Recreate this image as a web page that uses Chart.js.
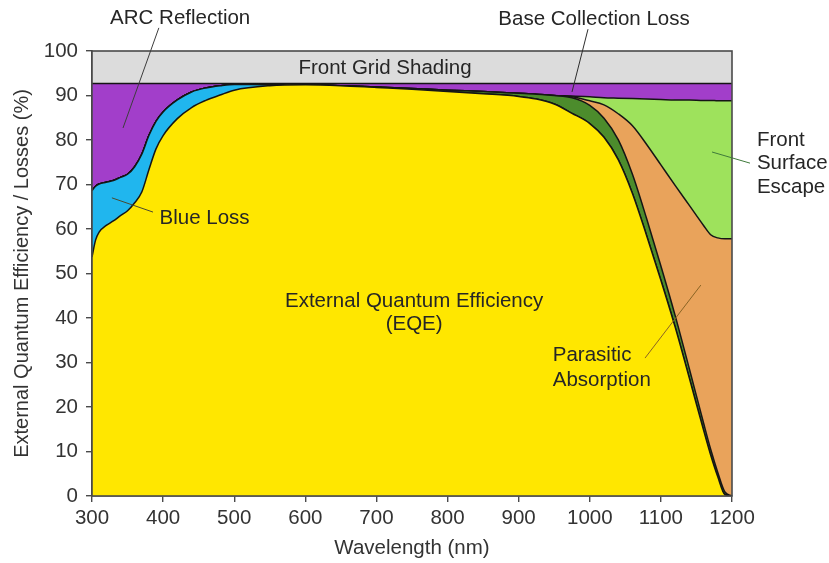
<!DOCTYPE html>
<html>
<head>
<meta charset="utf-8">
<script src="https://cdn.jsdelivr.net/npm/chart.js@4/dist/chart.umd.min.js"></script>
<style>
  html, body { margin: 0; padding: 0; background: #ffffff; }
  #wrap { position: relative; width: 829px; height: 563px; }
</style>
</head>
<body>
<div id="wrap"><canvas id="chart"></canvas></div>
<script>
// Wavelength grid (nm)
const wavelengths = [300, 305, 310, 320, 330, 340, 350, 360, 370, 380, 390, 400, 420, 440, 460, 480, 500, 550, 600, 650,
  700, 750, 800, 850, 900, 925, 950, 975, 1000, 1020, 1040, 1060, 1080, 1100, 1120, 1140, 1160, 1170, 1180, 1190, 1200];

// External quantum efficiency (%)
const eqe = [53.7, 57.5, 59.3, 60.8, 61.8, 63.0, 64.1, 65.9, 68.3, 73.3, 78.0, 81.0, 84.8, 87.3, 88.9, 90.1, 91.2, 92.2, 92.4, 92.2,
  91.8, 91.4, 90.9, 90.4, 89.8, 89.2, 88.1, 86.0, 83.7, 80.6, 75.6, 68.0, 58.5, 48.5, 38.0, 26.5, 14.8, 9.2, 4.3, 0.3, 0];

// Loss contributions (%), stacked on top of the EQE in this order
const blueLoss = [14.9, 12.1, 10.8, 9.7, 9.1, 8.6, 8.2, 8.1, 8.5, 7.7, 6.2, 5.3, 4.2, 3.5, 2.8, 2.1, 1.3, 0.2, 0, 0,
  0, 0, 0, 0, 0, 0, 0, 0, 0, 0, 0, 0, 0, 0, 0, 0, 0, 0, 0, 0, 0];
const baseCollectionLoss = [0, 0, 0, 0, 0, 0, 0, 0, 0, 0, 0, 0, 0, 0, 0, 0, 0, 0, 0, 0,
  0.1, 0.2, 0.3, 0.5, 0.7, 1.1, 1.9, 3.5, 4.1, 4.3, 4.5, 4.3, 3.8, 3.2, 2.6, 2.1, 1.6, 1.3, 1.0, 0.6, 0];
const parasiticAbsorption = [0, 0, 0, 0, 0, 0, 0, 0, 0, 0, 0, 0, 0, 0, 0, 0, 0, 0, 0, 0,
  0, 0, 0, 0, 0, 0, 0, 0.2, 1.0, 3.0, 5.8, 10.9, 16.7, 22.7, 29.2, 36.7, 44.4, 48.2, 52.7, 56.9, 57.8];
const frontSurfaceEscape = [0, 0, 0, 0, 0, 0, 0, 0, 0, 0, 0, 0, 0, 0, 0, 0, 0, 0, 0, 0,
  0, 0, 0, 0, 0, 0, 0, 0.2, 0.9, 1.6, 3.5, 6.1, 10.2, 14.7, 19.2, 23.7, 28.1, 30.2, 30.8, 31.0, 31.0];
const arcReflection = [24.1, 23.1, 22.6, 22.2, 21.8, 21.1, 20.4, 18.7, 15.9, 11.7, 8.5, 6.4, 3.7, 1.9, 1.0, 0.5, 0.2, 0.3, 0.3, 0.5,
  0.8, 1.1, 1.5, 1.8, 2.2, 2.4, 2.7, 2.8, 3.0, 3.2, 3.3, 3.4, 3.5, 3.6, 3.7, 3.7, 3.8, 3.8, 3.9, 3.9, 3.9];
const frontGridShading = [7.3, 7.3, 7.3, 7.3, 7.3, 7.3, 7.3, 7.3, 7.3, 7.3, 7.3, 7.3, 7.3, 7.3, 7.3, 7.3, 7.3, 7.3, 7.3, 7.3,
  7.3, 7.3, 7.3, 7.3, 7.3, 7.3, 7.3, 7.3, 7.3, 7.3, 7.3, 7.3, 7.3, 7.3, 7.3, 7.3, 7.3, 7.3, 7.3, 7.3, 7.3];

// Axis ticks
const xTicks = [300, 400, 500, 600, 700, 800, 900, 1000, 1100, 1200];
const yTicks = [0, 10, 20, 30, 40, 50, 60, 70, 80, 90, 100];

// Region labels, placed in data units (wavelength, %)
const regionLabels = [
  { lines: ['ARC Reflection'], x: 424, y: 107.4, align: 'center', gap: 23.5 },
  { lines: ['Front Grid Shading'], x: 712, y: 96.2, align: 'center', gap: 23.5 },
  { lines: ['Base Collection Loss'], x: 1006, y: 107.2, align: 'center', gap: 23.5 },
  { lines: ['Front', 'Surface', 'Escape'], x: 1235, y: 80.0, align: 'left', gap: 23.5 },
  { lines: ['Blue Loss'], x: 395, y: 62.5, align: 'left', gap: 23.5 },
  { lines: ['External Quantum Efficiency', '(EQE)'], x: 753, y: 43.8, align: 'center', gap: 23 },
  { lines: ['Parasitic', 'Absorption'], x: 948, y: 31.7, align: 'left', gap: 25 }
];
// Leader lines from labels into their regions
const leaderLines = [
  { from: [394, 105.2], to: [343.6, 82.7], color: '#3d3d3d' },
  { from: [997.5, 104.9], to: [975, 90.8], color: '#2e2e2e' },
  { from: [1171.9, 77.3], to: [1225.3, 74.8], color: '#3f7a3a' },
  { from: [328, 67.0], to: [385.8, 63.8], color: '#4a4a30' },
  { from: [1156.2, 47.4], to: [1077.7, 31.0], color: '#8a6424' }
];

const pts = vals => wavelengths.map((w, i) => ({ x: w, y: vals[i] }));

function layer(label, vals, color, fill, border) {
  return {
    label, data: pts(vals), backgroundColor: color, fill,
    borderColor: border === false ? 'rgba(0,0,0,0)' : '#151515',
    borderWidth: border === false ? 0 : 1.5,
    pointRadius: 0, cubicInterpolationMode: 'monotone'
  };
}

const plotFrame = {
  id: 'plotFrame',
  afterDatasetsDraw(chart) {
    const { ctx, chartArea: a } = chart;
    ctx.save();
    ctx.strokeStyle = '#4a4a4a';
    ctx.lineWidth = 1.6;
    ctx.strokeRect(a.left, a.top, a.right - a.left, a.bottom - a.top);
    ctx.restore();
  }
};

const annotations = {
  id: 'annotations',
  afterDraw(chart) {
    const { ctx } = chart;
    const xs = chart.scales.x, ys = chart.scales.y;
    ctx.save();
    leaderLines.forEach(l => {
      ctx.beginPath();
      ctx.strokeStyle = l.color;
      ctx.lineWidth = 1;
      ctx.moveTo(xs.getPixelForValue(l.from[0]), ys.getPixelForValue(l.from[1]));
      ctx.lineTo(xs.getPixelForValue(l.to[0]), ys.getPixelForValue(l.to[1]));
      ctx.stroke();
    });
    ctx.font = "20.5px 'Liberation Sans', Arial, sans-serif";
    ctx.fillStyle = '#262626';
    ctx.textBaseline = 'middle';
    regionLabels.forEach(t => {
      ctx.textAlign = t.align;
      const px = xs.getPixelForValue(t.x);
      const py = ys.getPixelForValue(t.y);
      t.lines.forEach((s, i) => ctx.fillText(s, px, py + i * t.gap));
    });
    ctx.restore();
  }
};

const tickFont = { family: "'Liberation Sans', Arial, sans-serif", size: 20.5 };

new Chart(document.getElementById('chart'), {
  type: 'line',
  data: {
    datasets: [
      layer('External Quantum Efficiency', eqe, '#FFE700', 'origin'),
      layer('Blue Loss', blueLoss, '#20B6EE', '-1'),
      layer('Base Collection Loss', baseCollectionLoss, '#4C8C2C', '-1'),
      layer('Parasitic Absorption', parasiticAbsorption, '#E9A35B', '-1'),
      layer('Front Surface Escape', frontSurfaceEscape, '#9EE25C', '-1'),
      layer('ARC Reflection', arcReflection, '#A23ECA', '-1'),
      layer('Front Grid Shading', frontGridShading, '#DCDCDC', '-1', false)
    ]
  },
  options: {
    responsive: true,
    maintainAspectRatio: false,
    animation: false,
    layout: { padding: { top: 51, right: 97, left: 0, bottom: 0 } },
    plugins: { legend: { display: false }, tooltip: { enabled: false } },
    scales: {
      x: {
        type: 'linear', min: 300, max: 1200,
        afterFit: s => { s.height = 67; },
        afterBuildTicks: s => { s.ticks = xTicks.map(v => ({ value: v })); },
        grid: { drawOnChartArea: false, drawTicks: true, tickLength: 6, color: '#4a4a4a', lineWidth: 1.4 },
        border: { display: true, color: '#4a4a4a', width: 1.6 },
        ticks: { font: tickFont, color: '#333333', padding: 4, maxRotation: 0, callback: v => String(v) },
        title: { display: true, text: 'Wavelength (nm)', font: tickFont, color: '#333333', padding: { top: 0, bottom: 2 } }
      },
      y: {
        stacked: true, min: 0, max: 100,
        afterFit: s => { s.width = 92; },
        afterBuildTicks: s => { s.ticks = yTicks.map(v => ({ value: v })); },
        grid: { drawOnChartArea: false, drawTicks: true, tickLength: 6, color: '#4a4a4a', lineWidth: 1.4 },
        border: { display: true, color: '#4a4a4a', width: 1.6 },
        ticks: { font: tickFont, color: '#333333', padding: 8, callback: v => String(v) },
        title: { display: true, text: 'External Quantum Efficiency / Losses (%)',
                 font: { family: "'Liberation Sans', Arial, sans-serif", size: 20 }, color: '#333333',
                 padding: { top: 10, bottom: 0 } }
      }
    }
  },
  plugins: [plotFrame, annotations]
});
</script>
</body>
</html>
